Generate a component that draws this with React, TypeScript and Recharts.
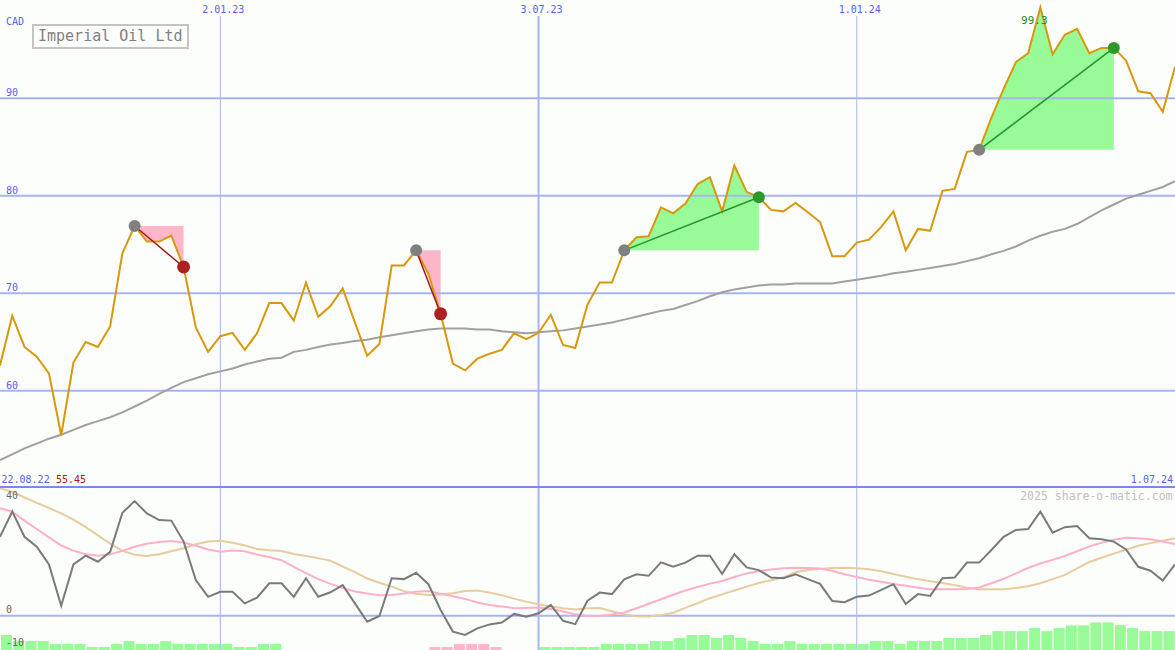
import { ComposedChart, Line, Area, Bar, XAxis, YAxis, ReferenceLine } from 'recharts'

// weekly closes, CAD, one point per week starting 29.08.22
const PRICE = [
  62.6, 67.7, 64.5, 63.5, 61.8, 55.45, 62.9, 65.0, 64.5, 66.6,
  74.1, 76.9, 75.3, 75.3, 75.9, 72.7, 66.5, 64.0, 65.6, 65.95,
  64.2, 65.9, 69.0, 69.0, 67.2, 71.1, 67.6, 68.7, 70.5, 67.0,
  63.6, 64.8, 72.85, 72.85, 74.4, 72.0, 67.9, 62.8, 62.1, 63.3,
  63.8, 64.2, 65.9, 65.3, 65.95, 67.8, 64.7, 64.4, 68.85, 71.1,
  71.1, 74.4, 75.75, 75.85, 78.8, 78.2, 79.2, 81.2, 81.9, 78.4,
  83.1, 80.4, 79.85, 78.55, 78.4, 79.25, 78.3, 77.3, 73.8, 73.8,
  75.2, 75.5, 76.8, 78.4, 74.4, 76.6, 76.4, 80.5, 80.7, 84.5,
  84.7, 88.0, 90.95, 93.7, 94.6, 99.3, 94.5, 96.5, 97.1, 94.6,
  95.15, 95.15, 93.85, 90.7, 90.5, 88.6, 93.2,
]
const MA = [
  52.9, 53.5, 54.1, 54.6, 55.1, 55.5, 56.0, 56.5, 56.9, 57.3,
  57.8, 58.4, 59.0, 59.7, 60.3, 60.9, 61.3, 61.7, 62.0, 62.3,
  62.7, 63.0, 63.3, 63.4, 64.0, 64.2, 64.5, 64.75, 64.9, 65.1,
  65.25, 65.5, 65.7, 65.9, 66.1, 66.3, 66.4, 66.4, 66.4, 66.3,
  66.3, 66.1, 66.0, 65.9, 66.0, 66.1, 66.2, 66.4, 66.6, 66.8,
  67.0, 67.3, 67.6, 67.9, 68.2, 68.4, 68.8, 69.2, 69.7, 70.1,
  70.4, 70.6, 70.8, 70.9, 70.9, 71.0, 71.0, 71.0, 71.0, 71.2,
  71.4, 71.6, 71.8, 72.05, 72.2, 72.4, 72.6, 72.8, 73.0, 73.3,
  73.6, 74.0, 74.35, 74.8, 75.4, 75.9, 76.3, 76.6, 77.1, 77.8,
  78.5, 79.1, 79.7, 80.1, 80.5, 80.9, 81.5,
]
const OSC = [
  26.3, 34.7, 26.3, 23.0, 17.1, 3.3, 17.1, 20.0, 18.0, 21.3,
  34.3, 38.2, 34.1, 31.9, 31.7, 24.7, 11.9, 6.3, 8.0, 8.0,
  4.1, 6.0, 10.8, 10.8, 6.3, 12.5, 6.3, 7.8, 10.2, 4.1,
  -2.0, -0.1, 12.5, 12.2, 14.3, 10.5, 1.9, -5.3, -6.4, -4.2,
  -2.9, -2.3, 0.6, -0.3, 0.8, 3.6, -1.7, -2.8, 5.0, 7.7,
  7.2, 12.1, 13.8, 13.3, 17.8, 16.3, 17.7, 20.0, 20.0, 13.9,
  20.5, 16.1, 15.2, 12.7, 12.5, 13.8, 12.2, 10.6, 4.9, 4.5,
  6.3, 6.7, 8.6, 10.5, 3.9, 7.2, 6.6, 12.5, 12.7, 17.7,
  17.7, 21.9, 26.3, 28.6, 28.9, 34.7, 27.7, 29.5, 29.9, 25.8,
  25.5, 24.7, 22.1, 16.3, 15.0, 11.7, 17.1,
]
const OSC_FAST = [
  35.8, 34.7, 31.7, 28.9, 26.1, 23.4, 21.7, 20.5, 20.0, 20.5,
  21.6, 23.0, 24.0, 24.6, 24.9, 24.4, 23.3, 22.1, 21.3, 21.7,
  21.5, 20.4, 19.6, 18.5, 16.3, 14.2, 12.2, 10.6, 9.2, 8.1,
  7.4, 6.8, 6.9, 7.4, 8.0, 8.2, 7.3, 6.5, 5.6, 4.4,
  3.6, 3.1, 2.5, 2.6, 2.7, 2.2, 1.4, 0.5, -0.1, -0.1,
  0.4, 1.1, 2.5, 4.0, 5.5, 7.0, 8.4, 9.6, 10.7, 11.6,
  12.9, 14.1, 14.9, 15.4, 15.8, 16.0, 15.9, 15.7, 15.0, 13.8,
  12.9, 12.0, 11.3, 10.6, 10.0, 9.3, 8.8, 8.8, 8.8, 8.9,
  9.4, 10.8, 12.3, 14.1, 15.9, 17.4, 18.6, 19.9, 21.5, 23.1,
  24.3, 25.3, 26.0, 25.8, 25.5, 24.7, 23.9,
]
const OSC_SLOW = [
  42.5, 41.3, 39.4, 37.6, 35.9, 34.1, 32.0, 29.5, 26.8, 24.0,
  21.6, 20.3, 19.9, 20.5, 21.5, 22.5, 23.8, 24.7, 25.0, 24.3,
  23.4, 22.2, 21.8, 21.6, 20.6, 19.9, 19.2, 18.3, 16.4, 14.5,
  12.4, 11.0, 9.7, 8.2, 7.3, 6.9, 7.1, 7.5, 8.2, 8.4,
  7.7, 6.8, 5.7, 4.7, 3.8, 3.1, 2.5, 2.1, 2.5, 2.6,
  1.5, 0.4, -0.2, -0.3, 0.2, 1.0, 2.6, 4.2, 5.8, 7.1,
  8.4, 9.7, 10.9, 11.8, 12.8, 14.5, 15.2, 15.6, 15.9, 16.0,
  15.8, 15.5, 14.8, 13.9, 13.0, 12.2, 11.5, 10.9, 10.2, 9.3,
  8.8, 8.8, 8.8, 9.2, 9.8, 10.8, 12.2, 13.6, 15.8, 17.9,
  19.3, 20.7, 22.0, 23.3, 24.2, 25.0, 25.8,
]
// histogram at the foot of the lower panel (negative = pink)
const HIST = [
  5, 3, 3, 3, 2, 2, 2, 1, 1, 2, 3, 2, 2, 3, 2, 2, 2, 2, 2, 1, 1, 2, 2,
  0, 0, 0, 0, 0, 0, 0, 0, 0, 0, 0, 0,
  -1, -1, -2, -2, -2, -1,
  0, 0, 0,
  1, 1, 1, 1, 1,
  2, 2, 2, 2,
  3, 3, 4, 5, 5, 4, 5, 4, 3, 2, 2, 3,
  2, 2, 2, 2, 2, 2,
  3, 3, 2, 3, 3, 3, 4, 4, 4, 5,
  6.3, 6.3, 6.3, 7.3, 6.3, 7.3, 8.2, 8.2, 9.2, 9.2, 8.3, 7.3, 6.3, 6.3, 6.3,
  0,
]
// [entry week, exit week]
const TRADES = [[11, 15], [34, 36], [51, 62], [80, 91]]
const DATE_TICKS = [18, 44, 70]
const DATE_LABELS = ['2.01.23', '3.07.23', '1.01.24']
const RANGE_LABELS = ['22.08.22', '1.07.24']
const PRICE_TICKS = [60, 70, 80, 90]
const OSC_TICKS = [-10, 0, 40]

const FONT = '"DejaVu Sans Mono", "Liberation Mono", monospace'
const BLUE = '#5461f0'
const GRID = '#a9b4f0'
const GRID_W = [1, 2, 1]
const BG = '#fcfefc'

const top = Math.max(...PRICE)
const low = Math.min(...PRICE)

const rows = PRICE.map((price, i) => {
  const r: any = {
    i, price, ma: MA[i], osc: OSC[i], fast: OSC_FAST[i], slow: OSC_SLOW[i],
    up: HIST[i] > 0 ? HIST[i] : null, dn: HIST[i] < 0 ? -HIST[i] : null,
  }
  TRADES.forEach(([a, b], k) => {
    const win = PRICE[b] > PRICE[a]
    if (i >= a && i <= b) r['band' + k] = [PRICE[a], price]
    if (i === a || i === b) r['seg' + k] = price
    if (i === a) r.entry = price
    if (i === b) r[win ? 'win' : 'loss'] = price
  })
  if (price === top) r.top = price
  return r
})

const DateTick = ({ x, payload }: any) => (
  <text x={x + 3} y={13} textAnchor="middle" fill={BLUE} fontSize={10} fontFamily={FONT}>
    {DATE_LABELS[DATE_TICKS.indexOf(payload.value)]}
  </text>
)
const PriceTick = ({ y, payload }: any) => (
  <text x={6} y={y - 2} fill={BLUE} fontSize={10} fontFamily={FONT}>{payload.value}</text>
)
const OscTick = ({ y, payload }: any) => (
  <text x={6} y={Math.max(11, y + (payload.value < 0 ? 0 : -3))} fill="#666" fontSize={10} fontFamily={FONT}>{payload.value}</text>
)
const TopLabel = ({ x, y, value }: any) => value == null ? null : (
  <text x={x - 6} y={y + 17} textAnchor="middle" fill="#2a8a2a" fontSize={11} fontFamily={FONT}>{value}</text>
)

const Y_DOMAIN: [number, number] = [50.25, 100.06]
const LINE_TOP = 98.42

export default function App() {
  return (
    <div style={{ position: 'relative', width: 1175, height: 650, background: BG, overflow: 'hidden' }}>
      <style>{'body{margin:0}'}</style>
      <ComposedChart width={1175} height={486} data={rows} margin={{ top: 0, right: 0, bottom: 0, left: 0 }}>
        {PRICE_TICKS.map(t => (
          <ReferenceLine key={t} y={t} stroke={GRID} strokeWidth={2} />
        ))}
        {DATE_TICKS.map((d, k) => (
          <ReferenceLine key={d} segment={[{ x: d, y: LINE_TOP }, { x: d, y: Y_DOMAIN[0] }]} stroke={GRID} strokeWidth={GRID_W[k]} />
        ))}
        <XAxis type="number" dataKey="i" domain={[0, 96]} orientation="top" mirror height={20} ticks={DATE_TICKS} interval={0}
          axisLine={false} tickLine={false} tick={<DateTick />} />
        <YAxis type="number" domain={Y_DOMAIN} mirror width={40} ticks={PRICE_TICKS} interval={0} axisLine={false} tickLine={false} tick={<PriceTick />} />
        <Line dataKey="entry" stroke="none" dot={{ r: 6, fill: '#808080', stroke: 'none' }} activeDot={false} isAnimationActive={false} />
        {TRADES.map(([a, b], k) => (
          <Area key={k} dataKey={'band' + k} type="linear" stroke="none" fillOpacity={1}
            fill={PRICE[b] > PRICE[a] ? '#98fb98' : '#ffb6c8'} isAnimationActive={false} />
        ))}
        <Line dataKey="ma" type="linear" stroke="#a0a0a0" strokeWidth={2} dot={false} activeDot={false} isAnimationActive={false} />
        <Line dataKey="top" stroke="none" dot={false} activeDot={false} label={<TopLabel />} isAnimationActive={false} />
        <Line dataKey="price" type="linear" stroke="#d8980c" strokeWidth={2} dot={false} activeDot={false} isAnimationActive={false} />
        {TRADES.map(([a, b], k) => (
          <Line key={k} dataKey={'seg' + k} type="linear" connectNulls strokeWidth={1.5}
            stroke={PRICE[b] > PRICE[a] ? '#22962a' : '#a01818'} dot={false} activeDot={false} isAnimationActive={false} />
        ))}
        <Line dataKey="loss" stroke="none" dot={{ r: 6.5, fill: '#b02020', stroke: 'none' }} activeDot={false} isAnimationActive={false} />
        <Line dataKey="win" stroke="none" dot={{ r: 6, fill: '#2a9a2a', stroke: 'none' }} activeDot={false} isAnimationActive={false} />
      </ComposedChart>
      <div style={{ height: 2, background: '#7888ec' }} />
      <ComposedChart width={1175} height={162} data={rows} margin={{ top: 0, right: 0, bottom: 0, left: 0 }}>
        <XAxis type="number" dataKey="i" domain={[0, 96]} hide />
        <XAxis xAxisId="bar" type="number" dataKey="i" domain={[-0.5, 95.5]} allowDataOverflow hide />
        <YAxis type="number" domain={[-11.43, 42.57]} mirror width={40} ticks={OSC_TICKS} interval={0} axisLine={false} tickLine={false} tick={<OscTick />} />
        <YAxis yAxisId="vol" type="number" domain={[0, 54]} hide />
        {DATE_TICKS.map((d, k) => (
          <ReferenceLine key={d} x={d} stroke={GRID} strokeWidth={GRID_W[k]} />
        ))}
        <ReferenceLine y={0} stroke={GRID} strokeWidth={2} />
        <Bar xAxisId="bar" yAxisId="vol" dataKey="up" stackId="h" fill="#98fb98" barSize={13} isAnimationActive={false} />
        <Bar xAxisId="bar" yAxisId="vol" dataKey="dn" stackId="h" fill="#ffb6c8" barSize={13} isAnimationActive={false} />
        <Line dataKey="slow" type="linear" stroke="#e6cc9e" strokeWidth={2} dot={false} activeDot={false} isAnimationActive={false} />
        <Line dataKey="fast" type="linear" stroke="#ffb0c8" strokeWidth={2} dot={false} activeDot={false} isAnimationActive={false} />
        <Line dataKey="osc" type="linear" stroke="#7a7a7a" strokeWidth={2} dot={false} activeDot={false} isAnimationActive={false} />
      </ComposedChart>
      <svg width={1175} height={650} style={{ position: 'absolute', left: 0, top: 0, pointerEvents: 'none' }} fontFamily={FONT}>
        <text x={6} y={25} fill={BLUE} fontSize={10}>CAD</text>
        <rect x={33} y={25} width={155} height={23} fill="none" stroke="#c4c4c4" strokeWidth={2} />
        <text x={38} y={41} fill="#808080" fontSize={15}>Imperial Oil Ltd</text>
        <text x={1.5} y={483} fill={BLUE} fontSize={10}>{RANGE_LABELS[0]}</text>
        <text x={56} y={483} fill="#a01818" fontSize={10}>{low.toFixed(2)}</text>
        <text x={1173} y={483} textAnchor="end" fill={BLUE} fontSize={10}>{RANGE_LABELS[1]}</text>
        <text x={1172.5} y={500} textAnchor="end" fill="#c0c0c0" fontSize={11.5}>2025 share-o-matic.com</text>
      </svg>
    </div>
  )
}
